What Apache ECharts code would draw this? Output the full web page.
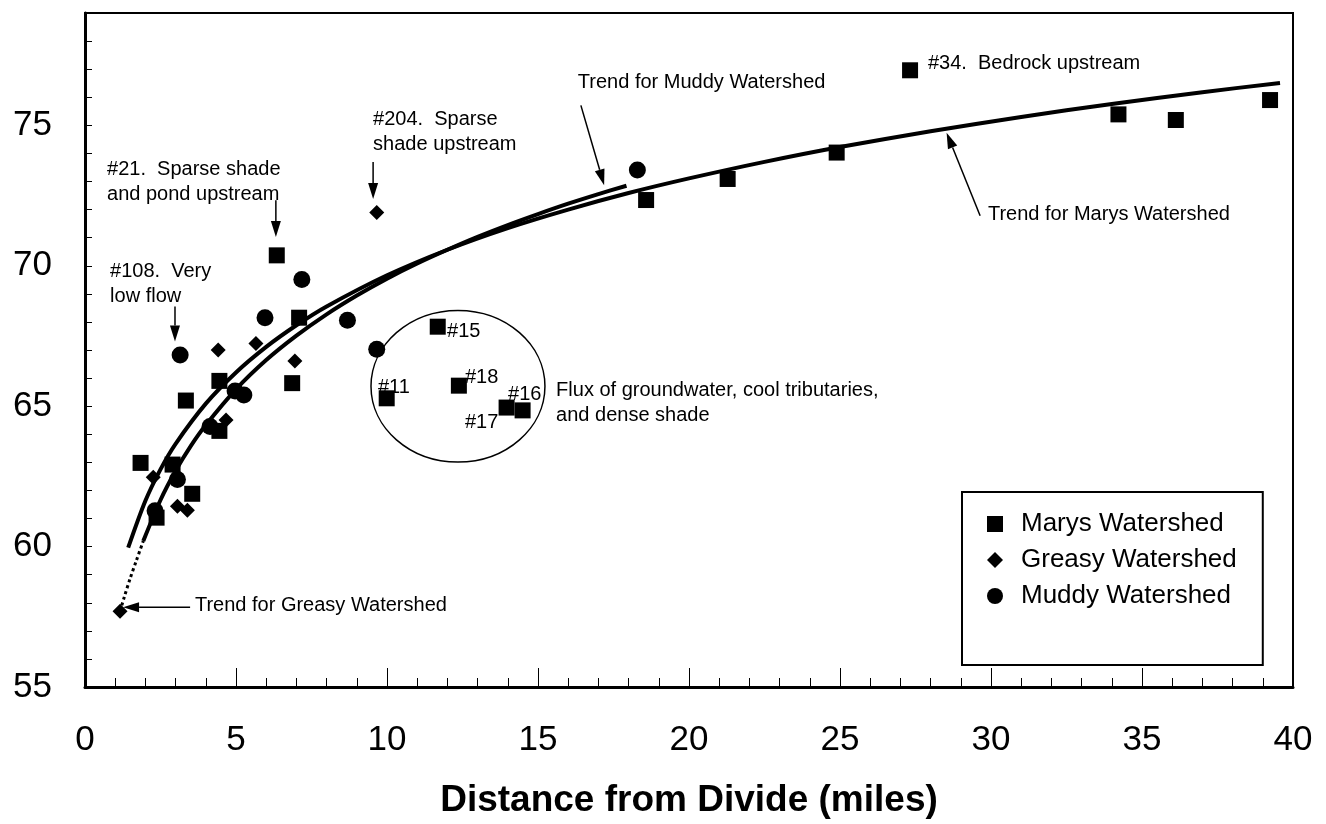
<!DOCTYPE html>
<html><head><meta charset="utf-8">
<script src="https://cdn.jsdelivr.net/npm/echarts@6/dist/echarts.min.js"></script>
<style>html,body{margin:0;padding:0;background:#fff}#c{width:1326px;height:824px}</style>
</head><body><div id="c"></div>
<script>
// ---- data ----
const marysX = [1.84, 2.37, 2.90, 3.34, 3.55, 4.45, 4.45, 6.35, 6.86, 7.09, 9.99, 11.68, 12.38, 13.96, 14.49, 18.58, 21.28, 24.89, 27.32, 34.22, 36.12, 39.24];
const marysY = [62.98, 61.03, 62.92, 65.2, 61.88, 65.9, 64.12, 70.37, 65.82, 68.15, 65.28, 67.83, 65.73, 64.95, 64.85, 72.34, 73.09, 74.03, 76.96, 75.39, 75.19, 75.9];

const greasyX = [1.16, 2.26, 3.06, 3.39, 4.41, 4.67, 5.66, 6.95, 9.66];
const greasyY = [57.7, 62.47, 61.44, 61.29, 67.0, 64.51, 67.23, 66.61, 71.9];

const muddyX = [2.32, 3.06, 3.15, 4.14, 4.97, 5.26, 5.96, 7.18, 8.69, 9.66, 18.29];
const muddyY = [61.28, 62.39, 66.82, 64.28, 65.54, 65.4, 68.15, 69.51, 68.06, 67.03, 73.41];

const marysTrendX = [1.43, 2, 2.5, 3, 4, 5, 6, 7, 8, 10, 12, 14, 16, 18, 20, 22.5, 25, 28, 31, 34, 37, 39.57];
const marysTrendY = [59.96, 61.63, 62.75, 63.66, 65.09, 66.2, 67.11, 67.88, 68.55, 69.66, 70.57, 71.34, 72.0, 72.59, 73.11, 73.7, 74.23, 74.79, 75.3, 75.76, 76.18, 76.51];

const muddyTrendX = [1.93, 2.5, 3, 3.5, 4, 5, 6, 7, 8, 9, 10, 11, 12, 13, 14, 15, 16, 17, 17.93];
const muddyTrendY = [60.2, 61.66, 62.7, 63.58, 64.33, 65.6, 66.64, 67.51, 68.27, 68.94, 69.54, 70.08, 70.57, 71.03, 71.45, 71.84, 72.21, 72.55, 72.85];

const greasyTrendX = [1.16, 1.3, 1.49, 1.7, 1.93];
const greasyTrendY = [57.7, 58.2, 58.85, 59.5, 60.2];

const xTicks = [0, 40, 5];      // min, max, step
const yTicks = [55, 79, 5];     // min, max, labelled step

const seriesNames = ['Marys Watershed', 'Greasy Watershed', 'Muddy Watershed'];

// annotations: text and data position of left edge / first line centre
const annoText = [
  '#21.  Sparse shade\nand pond upstream',
  '#108.  Very\nlow flow',
  '#204.  Sparse\nshade upstream',
  'Trend for Muddy Watershed',
  '#34.  Bedrock upstream',
  'Trend for Marys Watershed',
  'Flux of groundwater, cool tributaries,\nand dense shade',
  'Trend for Greasy Watershed',
  '#15', '#11', '#18', '#16', '#17'
];
const annoX = [0.73, 0.83, 9.54, 16.32, 27.91, 29.9, 15.6, 3.64, 11.99, 9.7, 12.58, 14.01, 12.58];
const annoY = [73.44, 69.79, 75.21, 76.52, 77.22, 71.84, 65.57, 57.91, 67.66, 65.67, 66.03, 65.43, 64.43];

// arrows: from (x0,y0) to tip (x1,y1)
const arrowX0 = [6.32, 2.98, 9.54, 16.42, 29.64, 3.48];
const arrowY0 = [72.33, 68.55, 73.69, 75.71, 71.78, 57.84];
const arrowX1 = [6.32, 2.98, 9.54, 17.19, 28.53, 1.26];
const arrowY1 = [71.02, 67.3, 72.38, 72.87, 74.74, 57.84];

// circled group (centre and radii in data units)
const ringC = [12.35, 65.71];
const ringR = [2.88, 2.7];

// ---- chart ----
const FONT = '"Liberation Sans", Arial, Helvetica, sans-serif';
const zip = (xs, ys) => xs.map((x, i) => [x, ys[i]]);
const chart = echarts.init(document.getElementById('c'));

chart.setOption({
  animation: false,
  backgroundColor: '#fff',
  grid: { left: 85, right: 33, top: 13, bottom: 134, show: true, borderColor: '#000', borderWidth: 2 },
  xAxis: {
    type: 'value', min: xTicks[0], max: xTicks[1], interval: xTicks[2],
    axisLine: { lineStyle: { color: '#000', width: 3 } },
    axisTick: { inside: true, length: 19, lineStyle: { color: '#000', width: 1 } },
    minorTick: { show: true, splitNumber: 5, length: 9, lineStyle: { color: '#000', width: 1 } },
    splitLine: { show: false },
    axisLabel: { margin: 36, fontSize: 35, color: '#000', fontFamily: FONT },
    name: 'Distance from Divide (miles)', nameLocation: 'middle', nameGap: 95,
    nameTextStyle: { fontSize: 37, fontWeight: 'bold', color: '#000', fontFamily: FONT }
  },
  yAxis: {
    type: 'value', min: yTicks[0], max: yTicks[1], interval: 1,
    axisLine: { show: true, lineStyle: { color: '#000', width: 3 } },
    axisTick: { show: true, inside: true, length: 7, lineStyle: { color: '#000', width: 1 } },
    splitLine: { show: false },
    axisLabel: { margin: 33, fontSize: 35, color: '#000', fontFamily: FONT,
      formatter: v => (v % yTicks[2] === 0 ? String(v) : '') }
  },
  legend: {
    orient: 'vertical', left: 962, top: 492,
    padding: [19, 26, 56, 25],
    itemWidth: 16, itemHeight: 16, itemGap: 10,
    borderColor: '#000', borderWidth: 2, backgroundColor: '#fff',
    textStyle: { fontSize: 26, color: '#000', fontFamily: FONT, padding: [0, 0, 0, 13] },
    data: seriesNames
  },
  series: [
    { name: 'marysTrend', type: 'line', data: zip(marysTrendX, marysTrendY), showSymbol: false, smooth: 0.3,
      lineStyle: { color: '#000', width: 4 }, z: 2, silent: true },
    { name: 'muddyTrend', type: 'line', data: zip(muddyTrendX, muddyTrendY), showSymbol: false, smooth: 0.3,
      lineStyle: { color: '#000', width: 4 }, z: 2, silent: true },
    { name: 'greasyTrend', type: 'line', data: zip(greasyTrendX, greasyTrendY), showSymbol: false, smooth: 0.3,
      lineStyle: { color: '#000', width: 3, type: 'dotted' }, z: 2, silent: true },
    { name: seriesNames[0], type: 'scatter', symbol: 'rect', symbolSize: 16, data: zip(marysX, marysY),
      itemStyle: { color: '#000', opacity: 1 }, z: 3 },
    { name: seriesNames[1], type: 'scatter', symbol: 'diamond', symbolSize: 15, data: zip(greasyX, greasyY),
      itemStyle: { color: '#000', opacity: 1 }, z: 3 },
    { name: seriesNames[2], type: 'scatter', symbol: 'circle', symbolSize: 17, data: zip(muddyX, muddyY),
      itemStyle: { color: '#000', opacity: 1 }, z: 3 }
  ]
});

const px = (x, y) => chart.convertToPixel({ gridIndex: 0 }, [x, y]);
const g = [];
annoText.forEach((t, k) => {
  const p = px(annoX[k], annoY[k]);
  t.split('\n').forEach((line, i) => {
    g.push({ type: 'text', x: p[0], y: p[1] + i * 25, z: 10,
      style: { text: line, fill: '#000', fontSize: 20, fontFamily: FONT, align: 'left', verticalAlign: 'middle' } });
  });
});
arrowX0.forEach((_, k) => {
  const a = px(arrowX0[k], arrowY0[k]);
  const b = px(arrowX1[k], arrowY1[k]);
  const dx = b[0] - a[0], dy = b[1] - a[1];
  const len = Math.hypot(dx, dy);
  const ux = dx / len, uy = dy / len;
  const L = 16, W = 10;
  const bx = b[0] - ux * L, by = b[1] - uy * L;
  g.push({ type: 'line', z: 10, shape: { x1: a[0], y1: a[1], x2: bx, y2: by }, style: { stroke: '#000', lineWidth: 1.5 } });
  g.push({ type: 'polygon', z: 10, shape: { points: [[b[0], b[1]], [bx - uy * W / 2, by + ux * W / 2], [bx + uy * W / 2, by - ux * W / 2]] },
    style: { fill: '#000' } });
});
const c = px(ringC[0], ringC[1]);
const cr = px(ringC[0] + ringR[0], ringC[1] + ringR[1]);
g.push({ type: 'ellipse', z: 1, shape: { cx: c[0], cy: c[1], rx: cr[0] - c[0], ry: c[1] - cr[1] },
  style: { fill: 'none', stroke: '#000', lineWidth: 1.5 } });
chart.setOption({ graphic: g });
</script>
</body></html>
